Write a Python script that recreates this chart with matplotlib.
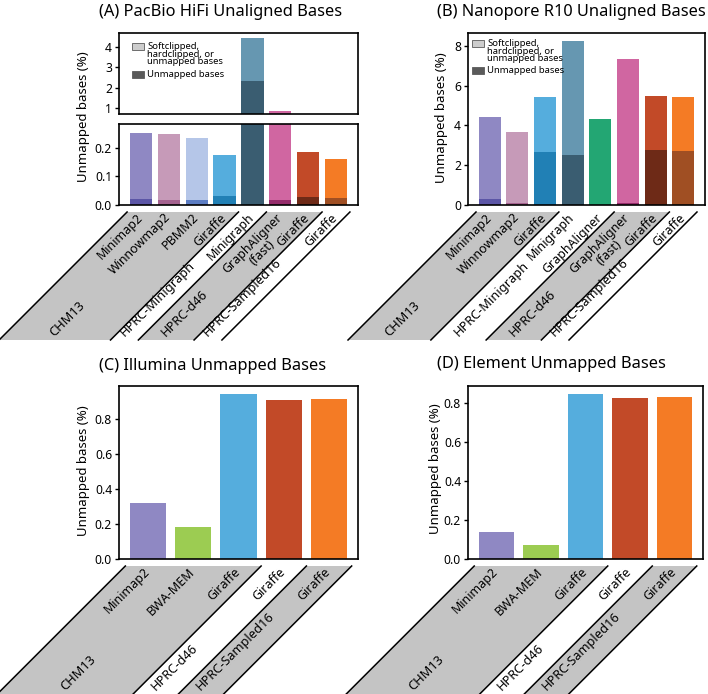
import matplotlib.pyplot as plt
from matplotlib.patches import Polygon, Rectangle
from matplotlib.lines import Line2D
from matplotlib.transforms import IdentityTransform

plt.rcParams['font.family'] = ['Noto Sans', 'DejaVu Sans']
plt.rcParams['axes.linewidth'] = 1.2
plt.rcParams['ytick.labelsize'] = 8.7

W, H = 708, 694

# (A) PacBio HiFi
hifi_methods = ['Minimap2', 'Winnowmap2', 'PBMM2', 'Giraffe', 'Minigraph',
                'GraphAligner\n(fast)', 'Giraffe', 'Giraffe']
hifi_groups = [('CHM13', 4), ('HPRC-Minigraph', 1), ('HPRC-d46', 2), ('HPRC-Sampled16', 1)]
hifi_total = [0.253, 0.249, 0.235, 0.176, 4.46, 0.86, 0.186, 0.162]
hifi_unmapped = [0.022, 0.019, 0.019, 0.030, 2.32, 0.019, 0.027, 0.024]
hifi_light = ['#8f88c3', '#c69ab8', '#b5c6e8', '#55addd', '#6697b1', '#d066a1', '#c24a28', '#f47b25']
hifi_dark = ['#5b55a6', '#a4628f', '#5c7dc3', '#2180b5', '#3a5d71', '#952c6b', '#6e2a17', '#a04f23']

# (B) Nanopore R10
ont_methods = ['Minimap2', 'Winnowmap2', 'Giraffe', 'Minigraph', 'GraphAligner',
               'GraphAligner\n(fast)', 'Giraffe', 'Giraffe']
ont_groups = [('CHM13', 3), ('HPRC-Minigraph', 2), ('HPRC-d46', 2), ('HPRC-Sampled16', 1)]
ont_total = [4.42, 3.67, 5.42, 8.23, 4.31, 7.35, 5.49, 5.42]
ont_unmapped = [0.30, 0.11, 2.66, 2.53, 4.31, 0.12, 2.77, 2.70]
ont_light = ['#8f88c3', '#c69ab8', '#55addd', '#6697b1', '#23a673', '#d066a1', '#c24a28', '#f47b25']
ont_dark = ['#5b55a6', '#a4628f', '#2180b5', '#3a5d71', '#23a673', '#952c6b', '#6e2a17', '#a04f23']

# (C) Illumina and (D) Element
short_methods = ['Minimap2', 'BWA-MEM', 'Giraffe', 'Giraffe', 'Giraffe']
short_groups = [('CHM13', 3), ('HPRC-d46', 1), ('HPRC-Sampled16', 1)]
illumina_unmapped = [0.319, 0.182, 0.941, 0.910, 0.914]
element_unmapped = [0.140, 0.073, 0.846, 0.826, 0.831]
short_colors = ['#8f88c3', '#9ccc52', '#55addd', '#c24a28', '#f47b25']

legend_labels = ['Softclipped,\nhardclipped, or\nunmapped bases', 'Unmapped bases']
legend_colors = ['#cdcdcd', '#5a5a5a']

ident = IdentityTransform()


def box(l, t, r, b):
    # pixel box (from top-left) -> figure fraction rect
    return [l / W, 1 - b / H, (r - l) / W, (b - t) / H]


def style(ax):
    ax.set_xticks([])
    ax.tick_params(axis='y', length=3, width=1, pad=2)


def add_legend(fig, x, y1, y2):
    # hand-made legend: patch top-aligned with first label line (pixel coords from top-left)
    for lab, col, y in zip(legend_labels, legend_colors, (y1, y2)):
        fig.patches.append(Rectangle((x, H - y - 7), 12, 7, facecolor=col, edgecolor='#5a5a5a',
                                     lw=0.6, transform=ident))
        fig.text(x + 15, H - y + 1, lab, transform=ident, ha='left', va='top',
                 fontsize=6.8, linespacing=0.82)


def label_bands(fig, ax, methods, groups, depth=128, gap=7):
    x_of = lambda v: ax.transData.transform((v, 0))[0]
    top = ax.transAxes.transform((0, 0))[1] - gap
    bot = top - depth
    start = 0
    bounds = [-0.5]
    for k, (name, n) in enumerate(groups):
        xl, xr = x_of(start - 0.5), x_of(start + n - 0.5)
        if k % 2 == 0:
            fig.patches.append(Polygon([(xl, top), (xr, top), (xr - depth, bot), (xl - depth, bot)],
                                       closed=True, facecolor='#c4c4c4', edgecolor='none',
                                       transform=ident))
        xc = (xl + xr) / 2
        fig.text(xc - depth + 2, bot + 1, name, transform=ident, rotation=45,
                 rotation_mode='anchor', ha='left', va='bottom', fontsize=9.2)
        start += n
        bounds.append(start - 0.5)
    for b in bounds:
        px = x_of(b)
        fig.add_artist(Line2D([px, px - depth], [top, bot], color='black', lw=1.1, transform=ident))
    for i, m in enumerate(methods):
        fig.text(x_of(i) - 5, top + 1, m, transform=ident, rotation=45, rotation_mode='anchor',
                 ha='right', va='top', fontsize=9, multialignment='center', linespacing=1.05)


fig = plt.figure(figsize=(W / 100, H / 100), dpi=100)

# (A) broken axis
ax_a_top = fig.add_axes(box(119, 33, 358, 114))
ax_a_bot = fig.add_axes(box(119, 124, 358, 205))
x8 = list(range(len(hifi_methods)))
for ax in (ax_a_top, ax_a_bot):
    ax.bar(x8, hifi_total, width=0.8, color=hifi_light)
    ax.bar(x8, hifi_unmapped, width=0.8, color=hifi_dark)
    style(ax)
ax_a_top.set_ylim(0.7, 4.7)
ax_a_top.set_yticks([1, 2, 3, 4])
ax_a_bot.set_ylim(0, 0.283)
ax_a_bot.set_yticks([0.0, 0.1, 0.2])
ax_a_bot.set_yticklabels(['0.0', '0.1', '0.2'])
add_legend(fig, 132, 43, 71)

# (B)
ax_b = fig.add_axes(box(468, 33, 705, 205))
ax_b.bar(x8, ont_total, width=0.8, color=ont_light)
ax_b.bar(x8, ont_unmapped, width=0.8, color=ont_dark)
ax_b.set_yticks([0, 2, 4, 6, 8])
style(ax_b)
add_legend(fig, 472, 40, 67)

# (C) and (D)
x5 = list(range(len(short_methods)))
ax_c = fig.add_axes(box(119, 386, 358, 559))
ax_c.bar(x5, illumina_unmapped, width=0.8, color=short_colors)
ax_d = fig.add_axes(box(468, 386, 703, 559))
ax_d.bar(x5, element_unmapped, width=0.8, color=short_colors)
for ax in (ax_c, ax_d):
    ax.set_yticks([0.0, 0.2, 0.4, 0.6, 0.8])
    style(ax)

# titles and y labels
for x, y, s in [(221, 12, '(A) PacBio HiFi Unaligned Bases'),
                (571, 12, '(B) Nanopore R10 Unaligned Bases'),
                (213, 366, '(C) Illumina Unmapped Bases'),
                (551, 364, '(D) Element Unmapped Bases')]:
    fig.text(x / W, 1 - y / H, s, ha='center', va='center', fontsize=11.8)
for x, y in [(83, 117), (442, 118), (83, 471), (435, 469)]:
    fig.text(x / W, 1 - y / H, 'Unmapped bases (%)', ha='center', va='center',
             rotation=90, fontsize=9.5)

label_bands(fig, ax_a_bot, hifi_methods, hifi_groups)
label_bands(fig, ax_b, ont_methods, ont_groups)
label_bands(fig, ax_c, short_methods, short_groups)
label_bands(fig, ax_d, short_methods, short_groups)

fig.savefig('out.png', dpi=100)
